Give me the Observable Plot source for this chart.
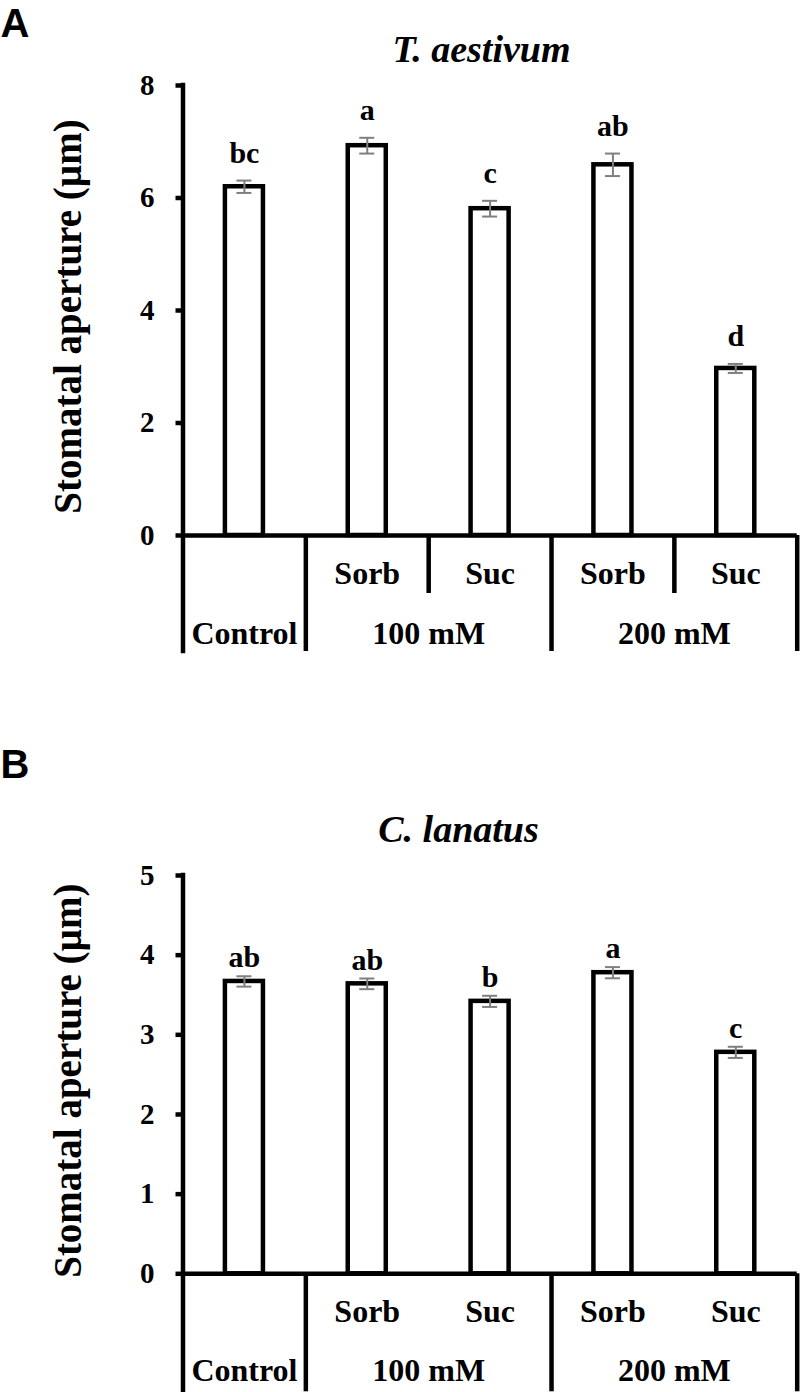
<!DOCTYPE html>
<html>
<head>
<meta charset="utf-8">
<script src="https://cdn.jsdelivr.net/npm/d3@7"></script>
<script src="https://cdn.jsdelivr.net/npm/@observablehq/plot@0.6"></script>
<style>
  html, body { margin: 0; padding: 0; background: #fff; }
  #chart { width: 800px; height: 1392px; position: relative; background: #fff; }
  #chart svg { display: block; }
</style>
</head>
<body>
<div id="chart"></div>
<script>
// ---- data ----
const categories = ["Control", "100 mM Sorb", "100 mM Suc", "200 mM Sorb", "200 mM Suc"];
const subLabels = ["", "Sorb", "Suc", "Sorb", "Suc"];
const groupLabels = ["Control", "100 mM", "200 mM"];
const groupStart = [0, 1, 3];
const groupEnd = [1, 3, 5];

const valuesA = [6.20, 6.93, 5.81, 6.59, 2.97];
const errorsA = [0.11, 0.14, 0.14, 0.20, 0.08];
const lettersA = ["bc", "a", "c", "ab", "d"];
const ticksA = [0, 2, 4, 6, 8];

const valuesB = [3.67, 3.64, 3.42, 3.78, 2.78];
const errorsB = [0.065, 0.067, 0.07, 0.07, 0.07];
const lettersB = ["ab", "ab", "b", "a", "c"];
const ticksB = [0, 1, 2, 3, 4, 5];

const yLabel = "Stomatal aperture (µm)";

// ---- drawing ----
const SERIF = "'Liberation Serif', 'Times New Roman', Times, serif";
const SANS = "'Liberation Sans', Arial, Helvetica, sans-serif";
const W = 800, ML = 182.5, MR = 3.3;

function panel(o) {
  const n = categories.length;
  const idx = d3.range(n);
  const ymax = d3.max(o.ticks);
  const frameH = o.height - o.marginTop - o.marginBottom;
  const ppu = frameH / ymax;                 // pixels per unit
  const longBottom = -o.longPx / ppu;         // table lines in data units
  const shortBottom = -o.shortPx / ppu;
  const boundariesLong = [0, ...groupEnd];
  const boundariesShort = o.shortSeparators ? [2, 4] : [];
  const black = "#000";

  return Plot.plot({
    width: W,
    height: o.height,
    marginLeft: ML,
    marginRight: MR,
    marginTop: o.marginTop,
    marginBottom: o.marginBottom,
    style: {fontFamily: SERIF, fontWeight: "bold", background: "#fff", overflow: "visible", color: "#000"},
    x: {domain: [0, n], axis: null},
    y: {domain: [0, ymax], axis: null},
    marks: [
      // bars
      Plot.rectY(idx, {
        x1: i => i, x2: i => i + 1, y1: 0, y2: i => o.values[i],
        insetLeft: 42.4, insetRight: 42.4,
        fill: "#fff", stroke: black, strokeWidth: 4.5
      }),
      // error bars
      Plot.ruleX(idx, {
        x: i => i + 0.5, y1: i => o.values[i] - o.errors[i], y2: i => o.values[i] + o.errors[i],
        stroke: "#7f7f7f", strokeWidth: 2
      }),
      Plot.ruleY(idx, {
        x1: i => i + 0.5, x2: i => i + 0.5, y: i => o.values[i] + o.errors[i],
        insetLeft: -7.5, insetRight: -7.5, stroke: "#7f7f7f", strokeWidth: 2
      }),
      Plot.ruleY(idx, {
        x1: i => i + 0.5, x2: i => i + 0.5, y: i => o.values[i] - o.errors[i],
        insetLeft: -7.5, insetRight: -7.5, stroke: "#7f7f7f", strokeWidth: 2
      }),
      // significance letters
      Plot.text(idx, {
        x: i => i + 0.5, y: i => o.values[i] + o.errors[i], text: i => o.letters[i],
        dy: -o.letterGap, lineAnchor: "bottom", fontSize: 30, fontWeight: "bold", fill: black
      }),
      // x axis line
      Plot.ruleY([0], {stroke: black, strokeWidth: 4.5}),
      // y axis line (continues down as the table's left border)
      Plot.ruleX([0], {y1: longBottom, y2: ymax, stroke: black, strokeWidth: 4.5, strokeLinecap: "square"}),
      // table borders
      Plot.ruleX(boundariesLong.slice(1), {y1: longBottom, y2: 0, stroke: black, strokeWidth: 4.5}),
      Plot.ruleX(boundariesShort, {y1: shortBottom, y2: 0, stroke: black, strokeWidth: 4.5}),
      // table labels
      Plot.text(idx, {
        x: i => i + 0.5, y: 0, text: i => subLabels[i], dy: o.subDy,
        lineAnchor: "bottom", fontSize: 32, fontWeight: "bold", fill: black
      }),
      Plot.text(groupLabels, {
        x: (d, i) => (groupStart[i] + groupEnd[i]) / 2, y: 0, text: d => d, dy: o.groupDy,
        lineAnchor: "bottom", fontSize: 32, fontWeight: "bold", fill: black
      }),
      // y axis ticks and labels
      Plot.axisY(o.ticks, {
        anchor: "left", tickSize: 7, tickPadding: 21.5, strokeWidth: 4.5,
        fontSize: 29, fontWeight: "bold", label: null, tickFormat: d => String(d), fill: black, stroke: black
      }),
      // y axis title
      Plot.text([yLabel], {
        frameAnchor: "left", rotate: -90, dx: -102.5, dy: 6, lineAnchor: "bottom",
        textAnchor: "middle", fontSize: 39, fontWeight: "bold", fill: black
      }),
      // panel title
      Plot.text([o.title], {
        frameAnchor: "top", dx: o.titleDx, dy: o.titleDy, lineAnchor: "bottom",
        textAnchor: "middle", fontSize: 38, fontWeight: "bold", fontStyle: "italic", fill: black
      }),
      // panel letter
      Plot.text([o.panelLetter], {
        frameAnchor: "top-left", dx: -ML, dy: o.letterDy, lineAnchor: "bottom",
        textAnchor: "start", fontSize: 40, fontWeight: "bold", fontFamily: SANS, fill: black
      })
    ]
  });
}

const chart = document.getElementById("chart");

chart.appendChild(panel({
  values: valuesA, errors: errorsA, letters: lettersA, ticks: ticksA,
  title: "T. aestivum", panelLetter: "A",
  height: 700, marginTop: 85, marginBottom: 165,
  longPx: 116, shortPx: 58, shortSeparators: true,
  subDy: 48, groupDy: 108, letterGap: 18,
  titleDx: -8.6, titleDy: -23.3, letterDy: -49
}));

chart.appendChild(panel({
  values: valuesB, errors: errorsB, letters: lettersB, ticks: ticksB,
  title: "C. lanatus", panelLetter: "B",
  height: 692, marginTop: 175, marginBottom: 118.7,
  longPx: 118, shortPx: 58, shortSeparators: false,
  subDy: 48.4, groupDy: 106.7, letterGap: 9,
  titleDx: -31.6, titleDy: -33.3, letterDy: -98
}));
</script>
</body>
</html>
